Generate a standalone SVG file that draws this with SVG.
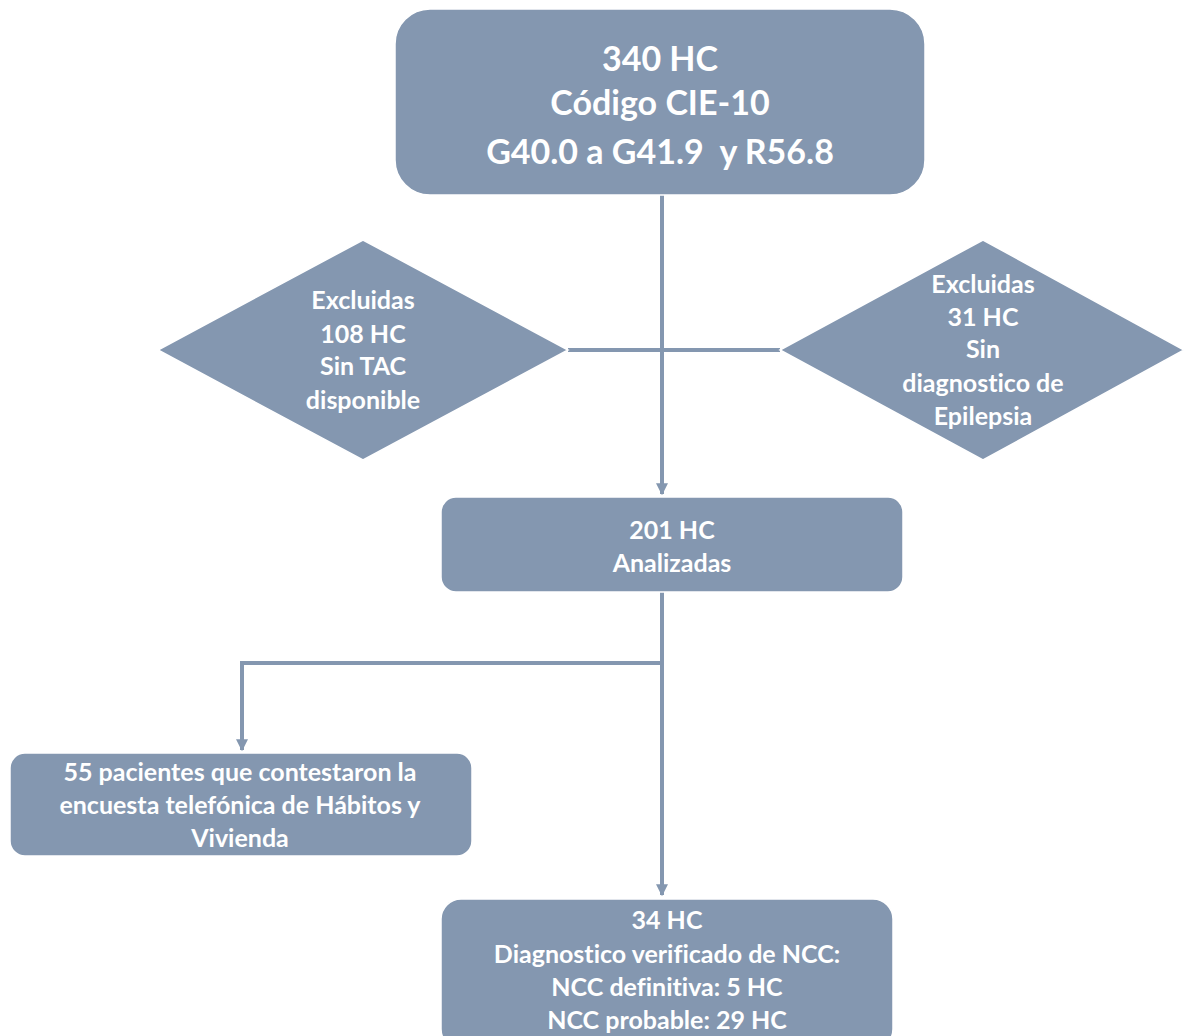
<svg xmlns="http://www.w3.org/2000/svg" width="1184" height="1036" viewBox="0 0 1184 1036">
<style>
.n{fill:#8497B0;stroke:#ffffff;stroke-width:1.5}
.t{fill:#ffffff;font-family:Lato,"Open Sans","Liberation Sans",sans-serif;font-weight:bold;text-anchor:middle;font-variant-ligatures:none}
.big{font-size:34px}
.med{font-size:25px}
.c{stroke:#8497B0;stroke-width:4;fill:none}
</style>
<defs>
<marker id="ah" viewBox="0 0 10 10" refX="9" refY="5" markerWidth="3" markerHeight="3" orient="auto" markerUnits="strokeWidth">
<path d="M0,0 L10,5 L0,10 z" fill="#8497B0"/>
</marker>
</defs>
<g id="connectors">
<line class="c" x1="662" y1="195" x2="662" y2="494" marker-end="url(#ah)"/>
<line class="c" x1="568" y1="350" x2="780" y2="350"/>
<line class="c" x1="662" y1="592" x2="662" y2="895" marker-end="url(#ah)"/>
<polyline class="c" points="664,663 242,663 242,750" marker-end="url(#ah)"/>
</g>
<g id="n340">
<rect class="n" x="395" y="9" width="530" height="186" rx="35"/>
<text class="t big" x="660" y="71">340 HC</text>
<text class="t big" x="660" y="115">Código CIE-10</text>
<text class="t big" x="660" y="164" xml:space="preserve">G40.0 a G41.9  y R56.8</text>
</g>
<g id="excl108">
<polygon class="n" points="158,350 363,240 568,350 363,460"/>
<text class="t med" x="363" y="309">Excluidas</text>
<text class="t med" x="363" y="343">108 HC</text>
<text class="t med" x="363" y="375">Sin TAC</text>
<text class="t med" x="363" y="409">disponible</text>
</g>
<g id="excl31">
<polygon class="n" points="780,350 983,240 1184,350 983,460"/>
<text class="t med" x="983" y="293">Excluidas</text>
<text class="t med" x="983" y="326">31 HC</text>
<text class="t med" x="983" y="358">Sin</text>
<text class="t med" x="983" y="392">diagnostico de</text>
<text class="t med" x="983" y="425">Epilepsia</text>
</g>
<g id="n201">
<rect class="n" x="441" y="497" width="462" height="95" rx="15"/>
<text class="t med" x="672" y="539">201 HC</text>
<text class="t med" x="672" y="572">Analizadas</text>
</g>
<g id="n55">
<rect class="n" x="10" y="753" width="462" height="103" rx="15"/>
<text class="t med" x="240" y="781">55 pacientes que contestaron la</text>
<text class="t med" x="240" y="814">encuesta telefónica de Hábitos y</text>
<text class="t med" x="240" y="847">Vivienda</text>
</g>
<g id="n34">
<rect class="n" x="441" y="899" width="452" height="150" rx="20"/>
<text class="t med" x="667" y="929">34 HC</text>
<text class="t med" x="667" y="963">Diagnostico verificado de NCC:</text>
<text class="t med" x="667" y="996">NCC definitiva: 5 HC</text>
<text class="t med" x="667" y="1029">NCC probable: 29 HC</text>
</g>
</svg>
